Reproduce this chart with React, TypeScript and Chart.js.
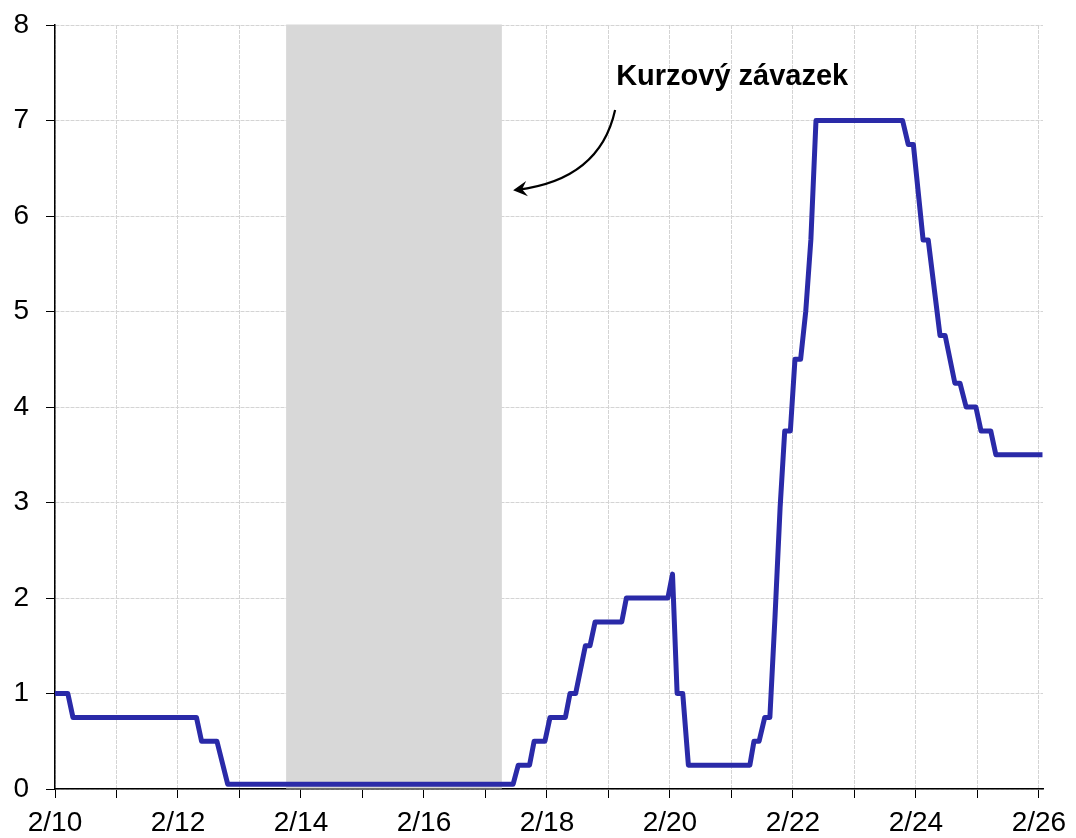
import React, { useEffect, useRef } from "react";
import { Chart, registerables } from "chart.js";

Chart.register(...registerables);

// months since Feb 2010 (x) and rate in % (y), read at the kinks of the line
const months = [
  0, 2.5, 3.5, 27.6, 28.6, 31.6, 33.7,
  89.4, 90.4, 92.6, 93.5, 95.6, 96.6, 99.6, 100.5, 101.6, 103.5, 104.4, 105.4,
  110.6, 111.5, 119.6, 120.5, 121.4, 122.5, 123.6,
  135.6, 136.4, 137.4, 138.5, 139.5, 140.5, 141.5, 142.4, 143.5, 144.4, 145.5,
  146.5, 147.5, 148.5, 165.4, 166.5, 167.5, 169.4, 170.4, 172.7, 173.7, 175.6,
  176.6, 177.8, 179.7, 180.7, 182.6, 183.6, 192.7,
];
const rates = [
  1.0, 1.0, 0.75, 0.75, 0.5, 0.5, 0.05,
  0.05, 0.25, 0.25, 0.5, 0.5, 0.75, 0.75, 1.0, 1.0, 1.5, 1.5, 1.75,
  1.75, 2.0, 2.0, 2.25, 1.0, 1.0, 0.25,
  0.25, 0.5, 0.5, 0.75, 0.75, 1.8, 2.95, 3.75, 3.75, 4.5, 4.5,
  5.0, 5.75, 7.0, 7.0, 6.75, 6.75, 5.75, 5.75, 4.75, 4.75, 4.25,
  4.25, 4.0, 4.0, 3.75, 3.75, 3.5, 3.5,
];

const yearTicks = [0, 12, 24, 36, 48, 60, 72, 84, 96, 108, 120, 132, 144, 156, 168, 180, 192];
const xTickLabels = ["2/10", "", "2/12", "", "2/14", "", "2/16", "", "2/18", "", "2/20", "", "2/22", "", "2/24", "", "2/26"];
const yTicks = [0, 1, 2, 3, 4, 5, 6, 7, 8];

// exchange-rate commitment period (months since Feb 2010)
const commitStart = 45.1;
const commitEnd = 87.2;
const annotationText = "Kurzový závazek";

const FONT = "'Liberation Sans', Arial, sans-serif";

const bandPlugin = {
  id: "band",
  beforeDatasetsDraw(chart: any) {
    const { ctx, chartArea, scales } = chart;
    const x1 = scales.x.getPixelForValue(commitStart);
    const x2 = scales.x.getPixelForValue(commitEnd);
    ctx.save();
    ctx.fillStyle = "#d8d8d8";
    ctx.fillRect(x1, chartArea.top - 0.5, x2 - x1, chartArea.bottom - chartArea.top);
    ctx.restore();
  },
};

const annotationPlugin = {
  id: "annot",
  afterDatasetsDraw(chart: any) {
    const { ctx, scales } = chart;
    const xs = scales.x, ys = scales.y;
    const tx = xs.getPixelForValue(109.5);
    const ty = ys.getPixelForValue(7.37);
    ctx.save();
    ctx.font = `bold 29px ${FONT}`;
    ctx.fillStyle = "#000";
    ctx.textBaseline = "alphabetic";
    ctx.textAlign = "left";
    ctx.fillText(annotationText, tx, ty);

    const p0 = { x: xs.getPixelForValue(109.3), y: ys.getPixelForValue(7.11) };
    const c = { x: xs.getPixelForValue(106.3), y: ys.getPixelForValue(6.38) };
    const p2 = { x: xs.getPixelForValue(89.4), y: ys.getPixelForValue(6.27) };
    ctx.strokeStyle = "#000";
    ctx.lineWidth = 2.2;
    ctx.beginPath();
    ctx.moveTo(p0.x, p0.y);
    ctx.quadraticCurveTo(c.x, c.y, p2.x + 4, p2.y - 0.4);
    ctx.stroke();

    const ang = Math.atan2(p2.y - c.y, p2.x - c.x);
    const len = 16, spread = 0.5, notch = 9;
    ctx.beginPath();
    ctx.moveTo(p2.x, p2.y);
    ctx.lineTo(p2.x - len * Math.cos(ang - spread), p2.y - len * Math.sin(ang - spread));
    ctx.lineTo(p2.x - notch * Math.cos(ang), p2.y - notch * Math.sin(ang));
    ctx.lineTo(p2.x - len * Math.cos(ang + spread), p2.y - len * Math.sin(ang + spread));
    ctx.closePath();
    ctx.fillStyle = "#000";
    ctx.fill();
    ctx.restore();
  },
};

export default function App() {
  const ref = useRef<HTMLCanvasElement | null>(null);

  useEffect(() => {
    if (!ref.current) return;
    const data = months.map((m, i) => ({ x: m, y: rates[i] }));
    const chart = new Chart(ref.current, {
      type: "line",
      data: {
        datasets: [
          {
            data,
            borderColor: "#2a2aa8",
            borderWidth: 5,
            pointRadius: 0,
            tension: 0,
            fill: false,
            borderJoinStyle: "round",
            borderCapStyle: "butt",
          },
        ],
      },
      options: {
        animation: false,
        responsive: true,
        maintainAspectRatio: false,
        layout: { padding: { top: 25, right: 33, left: 0, bottom: 0 } },
        plugins: { legend: { display: false }, tooltip: { enabled: false } },
        scales: {
          x: {
            type: "linear",
            min: 0,
            max: 192.8,
            afterBuildTicks: (s: any) => {
              s.ticks = yearTicks.map((v) => ({ value: v }));
            },
            afterFit: (s: any) => {
              s.height = 49;
              s.paddingLeft = 0;
              s.paddingRight = 0;
            },
            ticks: {
              autoSkip: false,
              maxRotation: 0,
              padding: 8,
              color: "#000",
              font: { family: FONT, size: 28 },
              callback: (v: any) => {
                const i = yearTicks.indexOf(Number(v));
                return i >= 0 ? xTickLabels[i] : "";
              },
            },
            grid: {
              color: "#d4d4d4",
              lineWidth: 1,
              tickColor: "#000",
              tickLength: 9,
              tickWidth: 1,
            },
            border: { display: true, color: "#000", width: 1.5, dash: [4, 1] },
          },
          y: {
            min: 0,
            max: 8,
            afterBuildTicks: (s: any) => {
              s.ticks = yTicks.map((v) => ({ value: v }));
            },
            afterFit: (s: any) => {
              s.width = 55;
              s.paddingTop = 0;
              s.paddingBottom = 0;
            },
            ticks: {
              padding: 17,
              color: "#000",
              font: { family: FONT, size: 28 },
              callback: (v: any) => String(v),
            },
            grid: {
              color: "#d4d4d4",
              lineWidth: 1,
              tickColor: "#000",
              tickLength: 9,
              tickWidth: 1,
            },
            border: { display: true, color: "#000", width: 1.5, dash: [4, 1] },
          },
        },
      },
      plugins: [bandPlugin, annotationPlugin],
    } as any);
    return () => chart.destroy();
  }, []);

  return (
    <div style={{ position: "fixed", left: 0, top: 0, width: 1076, height: 838, background: "#fff" }}>
      <canvas ref={ref} style={{ display: "block" }} />
    </div>
  );
}
